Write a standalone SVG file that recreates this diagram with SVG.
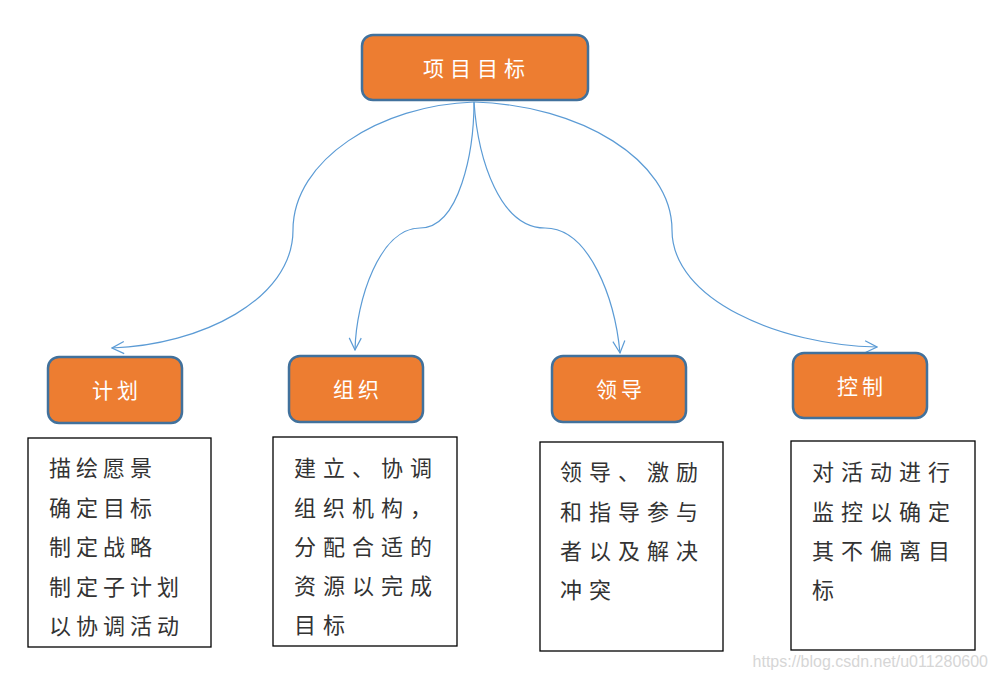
<svg xmlns="http://www.w3.org/2000/svg" width="998" height="685" viewBox="0 0 998 685">
<style>
.node rect{fill:#ED7D31;stroke:#41719C;stroke-width:2.5}
.node text{fill:#fff;font-family:"Noto Sans CJK SC","Noto Sans",sans-serif;font-size:21px;text-anchor:middle;dominant-baseline:central}
.box rect{fill:#fff;stroke:#000;stroke-width:1.3}
.box text{fill:#333;font-family:"Noto Sans CJK SC","Noto Sans",sans-serif;font-size:22px;dominant-baseline:central}
.conn path{fill:none;stroke:#5B9BD5;stroke-width:1.2}
</style>
<defs>
<marker id="arr" viewBox="0 0 14 14" refX="13" refY="7" markerWidth="14" markerHeight="14" markerUnits="userSpaceOnUse" orient="auto">
<path d="M1,1 L13,7 L1,13" fill="none" stroke="#5B9BD5" stroke-width="1.2"/>
</marker>
</defs>
<rect width="998" height="685" fill="#fff"/>
<g class="conn" id="connectors">
<path d="M474,102 C380,105 293,160 293,230 C293,300 200,345 112,348" marker-end="url(#arr)"/>
<path d="M474,102 C474,150 460,228 420,228 C380,228 356,300 355,350" marker-end="url(#arr)"/>
<path d="M474,102 C478,160 500,228 545,228 C590,228 615,300 620,353" marker-end="url(#arr)"/>
<path d="M474,102 C580,105 672,160 672,230 C672,300 780,345 877,347" marker-end="url(#arr)"/>
</g>
<g class="node" id="n-goal"><rect x="362" y="35" width="226" height="65" rx="11"/><text x="477" y="67" letter-spacing="6">项目目标</text></g>
<g class="node" id="n-plan"><rect x="48" y="357" width="134" height="66" rx="11"/><text x="117" y="389" letter-spacing="4">计划</text></g>
<g class="node" id="n-org"><rect x="289" y="356" width="134" height="66" rx="11"/><text x="358" y="388" letter-spacing="4">组织</text></g>
<g class="node" id="n-lead"><rect x="552" y="356" width="134" height="66" rx="11"/><text x="621" y="388" letter-spacing="4">领导</text></g>
<g class="node" id="n-ctrl"><rect x="793" y="353" width="134" height="65" rx="11"/><text x="862" y="385" letter-spacing="4">控制</text></g>
<g class="box" id="b-plan"><rect x="28" y="438" width="183" height="209"/>
<text x="49" y="466" letter-spacing="5">描绘愿景</text>
<text x="49" y="506" letter-spacing="5">确定目标</text>
<text x="49" y="545" letter-spacing="5">制定战略</text>
<text x="49" y="585" letter-spacing="5">制定子计划</text>
<text x="49" y="624" letter-spacing="5">以协调活动</text>
</g>
<g class="box" id="b-org"><rect x="273" y="437" width="184" height="209"/>
<text x="294" y="466" letter-spacing="7">建立、协调</text>
<text x="294" y="506" letter-spacing="7">组织机构，</text>
<text x="294" y="545" letter-spacing="7">分配合适的</text>
<text x="294" y="584" letter-spacing="7">资源以完成</text>
<text x="294" y="623" letter-spacing="7">目标</text>
</g>
<g class="box" id="b-lead"><rect x="540" y="442" width="183" height="209"/>
<text x="560" y="470" letter-spacing="7">领导、激励</text>
<text x="560" y="510" letter-spacing="7">和指导参与</text>
<text x="560" y="549" letter-spacing="7">者以及解决</text>
<text x="560" y="588" letter-spacing="7">冲突</text>
</g>
<g class="box" id="b-ctrl"><rect x="791" y="441" width="184" height="209"/>
<text x="812" y="470" letter-spacing="7">对活动进行</text>
<text x="812" y="510" letter-spacing="7">监控以确定</text>
<text x="812" y="549" letter-spacing="7">其不偏离目</text>
<text x="812" y="588" letter-spacing="7">标</text>
</g>
<text x="988" y="667" text-anchor="end" font-family="Liberation Sans,Arial,sans-serif" font-size="16" fill="#d6d6d6">https://blog.csdn.net/u011280600</text>
</svg>
